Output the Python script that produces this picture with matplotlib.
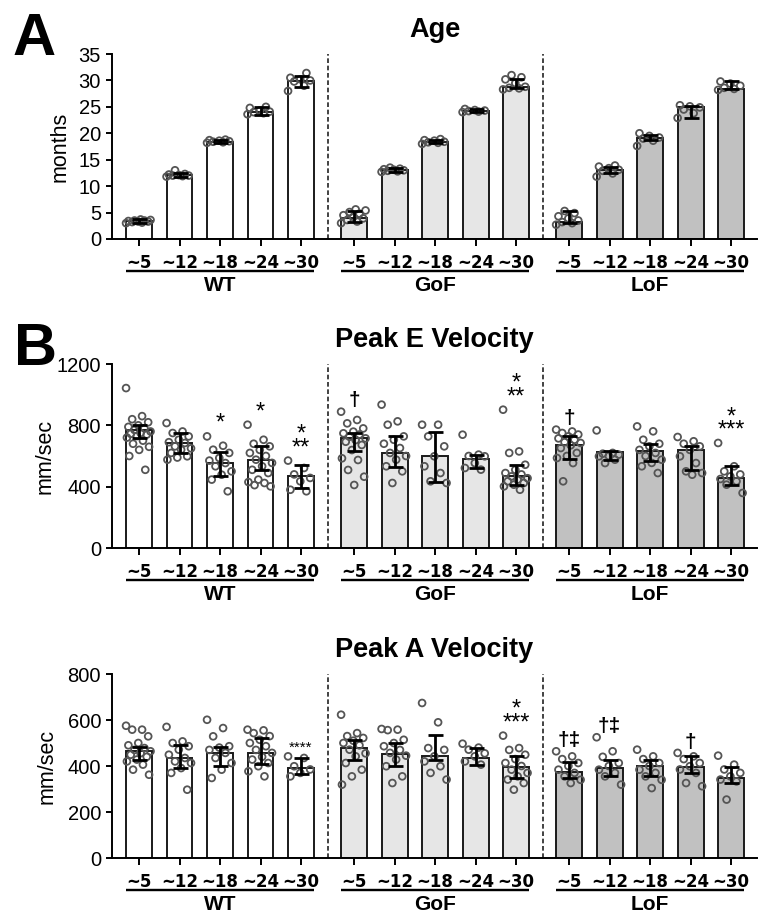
import matplotlib
matplotlib.use('Agg')
import matplotlib.pyplot as plt
import numpy as np
from matplotlib.transforms import offset_copy

plt.rcParams['font.family'] = ['Liberation Sans', 'DejaVu Sans']

# Данные
GROUPS = ['WT', 'GoF', 'LoF']
AGES = ['~5', '~12', '~18', '~24', '~30']
FILLS = ['#ffffff', '#e6e6e6', '#c1c1c1']

# A: возраст (месяцы)
age_mean = [3.5, 12.1, 18.4, 24.0, 29.8,
            4.0, 13.0, 18.4, 24.3, 28.8,
            3.3, 13.1, 19.2, 24.9, 28.4]
age_lo = [3.1, 11.8, 18.1, 23.5, 28.8,
          3.3, 12.7, 18.1, 24.0, 28.6,
          3.1, 12.4, 18.8, 22.9, 28.4]
age_hi = [3.7, 12.4, 18.8, 25.0, 30.8,
          5.3, 13.4, 18.8, 24.6, 30.3,
          5.3, 13.7, 19.7, 25.2, 29.8]
age_pts = [
    [3.0, 3.1, 3.2, 3.3, 3.3, 3.4, 3.5, 3.5, 3.6, 3.7],
    [11.8, 11.9, 12.0, 12.0, 12.1, 12.2, 12.3, 13.0],
    [18.2, 18.3, 18.4, 18.5, 18.6, 18.7, 18.8],
    [23.6, 23.8, 24.0, 24.1, 24.3, 24.8, 25.0],
    [28.0, 29.0, 29.8, 30.0, 30.2, 30.5, 31.4],
    [3.0, 3.3, 3.6, 3.9, 4.2, 4.5, 4.8, 5.1, 5.4, 5.6],
    [12.7, 12.8, 12.9, 13.0, 13.1, 13.2, 13.3, 13.5],
    [18.0, 18.2, 18.3, 18.4, 18.6, 18.7, 18.9],
    [24.0, 24.1, 24.2, 24.3, 24.4, 24.6],
    [28.3, 28.5, 28.6, 28.8, 29.5, 30.2, 30.6, 31.0],
    [2.7, 3.0, 3.2, 3.5, 3.9, 4.3, 4.9, 5.3],
    [11.8, 12.4, 12.9, 13.1, 13.4, 13.7, 13.9],
    [17.6, 18.6, 19.0, 19.2, 19.5, 20.0],
    [22.9, 23.8, 24.5, 24.9, 25.1, 25.3],
    [28.2, 28.4, 28.6, 29.0, 29.4, 29.8],
]
age_marks = [''] * 15

# B: пиковая скорость E (мм/с)
e_mean = [772, 685, 554, 576, 467,
          715, 620, 602, 580, 467,
          674, 624, 630, 641, 457]
e_lo = [717, 620, 472, 511, 391,
        633, 528, 433, 522, 413,
        580, 576, 565, 511, 413]
e_hi = [804, 750, 624, 663, 543,
        752, 733, 754, 609, 539,
        733, 630, 680, 667, 533]
e_pts = [
    [1043, 860, 840, 820, 800, 790, 780, 770, 760, 750, 745, 740, 730, 720, 700, 680, 660, 640, 600, 510],
    [815, 760, 750, 728, 706, 690, 685, 663, 650, 641, 620, 598, 590, 576],
    [728, 667, 641, 620, 587, 570, 554, 533, 500, 478, 446, 370],
    [804, 706, 680, 663, 640, 620, 600, 576, 555, 533, 510, 489, 446, 430, 424, 410, 402],
    [570, 522, 480, 457, 435, 380, 370],
    [889, 835, 813, 780, 759, 748, 740, 726, 715, 704, 693, 672, 639, 585, 574, 509, 465, 411],
    [935, 826, 804, 728, 706, 680, 652, 620, 600, 576, 533, 500, 424],
    [804, 804, 728, 663, 598, 533, 489, 435, 424],
    [739, 609, 600, 598, 554, 522, 511],
    [902, 630, 620, 543, 510, 489, 480, 467, 455, 446, 435, 424, 413, 402, 380],
    [772, 760, 750, 740, 728, 715, 706, 690, 685, 670, 652, 620, 600, 587, 554, 435],
    [767, 620, 615, 609, 600, 598, 576, 554],
    [793, 761, 706, 680, 663, 640, 620, 600, 576, 555, 533, 489],
    [724, 696, 680, 663, 640, 598, 554, 500, 489, 478],
    [685, 533, 500, 480, 467, 450, 435, 413, 359],
]
e_marks = ['', '', '*', '*', '*\n**',
           '†', '', '', '', '*\n**',
           '†', '', '', '', '*\n***']

# C: пиковая скорость A (мм/с)
a_mean = [464, 435, 457, 457, 391,
          478, 454, 442, 435, 396,
          372, 391, 399, 396, 348]
a_lo = [428, 391, 399, 410, 367,
        425, 399, 428, 406, 348,
        348, 355, 355, 370, 326]
a_hi = [483, 493, 481, 522, 435,
        515, 500, 536, 478, 442,
        417, 428, 428, 442, 394]
a_pts = [
    [575, 558, 558, 529, 500, 490, 478, 470, 464, 456, 449, 440, 428, 420, 406, 384, 362],
    [570, 507, 500, 486, 471, 449, 435, 420, 413, 391, 370, 297],
    [601, 565, 529, 486, 480, 470, 457, 435, 413, 384, 348],
    [558, 555, 543, 530, 514, 500, 486, 470, 457, 440, 428, 413, 399, 377, 355],
    [442, 435, 399, 385, 370, 355],
    [623, 543, 530, 522, 510, 500, 490, 471, 455, 442, 413, 384, 355, 319],
    [561, 558, 556, 514, 500, 486, 470, 457, 445, 428, 399, 355, 326],
    [674, 590, 478, 470, 442, 420, 399, 370, 341],
    [497, 480, 471, 455, 442, 420, 406],
    [532, 478, 470, 449, 430, 413, 400, 384, 370, 355, 341, 326, 297],
    [464, 442, 430, 413, 400, 384, 370, 355, 340, 326],
    [525, 464, 440, 413, 400, 384, 370, 355, 319],
    [471, 442, 430, 413, 400, 384, 370, 355, 340, 304],
    [457, 442, 430, 413, 399, 385, 370, 326, 312],
    [445, 406, 385, 370, 355, 341, 333, 254],
]
a_marks = ['', '', '', '', '****',
           '', '', '', '', '*\n***',
           '†‡', '†‡', '', '†', '']

GROUP_STEP = 5.31
BAR_W = 0.64
PX = 0.72  # пунктов в пикселе при dpi=100


def bar_positions():
    return np.array([g * GROUP_STEP + i for g in range(3) for i in range(5)])


def spread(n):
    """Детерминированный разброс точек по горизонтали."""
    return ((np.arange(n) * 0.618) % 1.0 - 0.5) * 0.64


def draw_panel(fig, ax, means, lo, hi, pts, marks, yticks, ylabel, title, label_x):
    x = bar_positions()
    means = np.asarray(means, float)
    fills = [FILLS[g] for g in range(3) for _ in range(5)]
    ymax = yticks[-1]

    ax.bar(x, means, width=BAR_W, color=fills, edgecolor='#1a1a1a',
           linewidth=1.4, zorder=1)
    for xi, p in zip(x, pts):
        ax.scatter(xi + spread(len(p)), p, s=24, facecolors='none',
                   edgecolors='#555555', linewidths=1.3, zorder=2)
    yerr = [np.clip(means - np.asarray(lo), 0, None),
            np.clip(np.asarray(hi) - means, 0, None)]
    ax.errorbar(x, means, yerr=yerr, fmt='none', ecolor='black',
                elinewidth=2.0, capsize=5.4, capthick=2.0, zorder=3)

    for xi, p, h, m in zip(x, pts, hi, marks):
        if not m:
            continue
        top = max(max(p), h)
        if m == '****':
            size, weight = 11, 'normal'
        elif '*' in m:
            size, weight = 17, 'normal'
        else:
            size, weight = 15, 'bold'
        ax.annotate(m, xy=(xi, top), xytext=(0, 1), textcoords='offset points',
                    ha='center', va='bottom', fontsize=size, fontweight=weight,
                    linespacing=0.5, annotation_clip=False)

    # разделители групп
    for g in range(1, 3):
        xd = (g * GROUP_STEP + (g - 1) * GROUP_STEP + 4) / 2
        ax.plot([xd, xd], [0, ymax], color='#222222', lw=1.2,
                ls=(0, (2.8, 1.6)), zorder=0)

    ax.set_xlim(-0.667, 15.26)
    ax.set_ylim(0, ymax)
    ax.set_yticks(yticks)
    ax.set_yticklabels([str(t) for t in yticks], fontsize=14.5)
    ax.set_xticks(x)
    ax.set_xticklabels(AGES * 3, fontsize=12, fontweight='bold',
                       family=['DejaVu Sans'])
    ax.tick_params(axis='y', length=4.3, width=1.4, pad=3.6)
    ax.tick_params(axis='x', length=5, width=1.4, pad=5.8)
    for side in ('top', 'right'):
        ax.spines[side].set_visible(False)
    for side in ('left', 'bottom'):
        ax.spines[side].set_linewidth(1.4)

    ax.set_ylabel(ylabel, fontsize=15.5)
    ax.yaxis.set_label_coords(label_x, 0.5)
    ax.set_title(title, fontsize=19.5, fontweight='bold', pad=12)

    # подчёркивание и подписи групп
    under = offset_copy(ax.get_xaxis_transform(), fig=fig, y=-32, units='dots')
    for g, name in enumerate(GROUPS):
        x0 = g * GROUP_STEP - BAR_W / 2
        x1 = g * GROUP_STEP + 4 + BAR_W / 2
        ax.plot([x0, x1], [0, 0], color='black', lw=2.4 * PX,
                transform=under, clip_on=False, solid_capstyle='butt')
        ax.annotate(name, xy=((x0 + x1) / 2, 0), xycoords=('data', 'axes fraction'),
                    xytext=(0, -37 * PX), textcoords='offset points',
                    ha='center', va='top', fontsize=15, fontweight='bold')


fig = plt.figure(figsize=(7.58, 9.18), dpi=100)
W, H = 758.0, 918.0
left = 112 / W
width = (757 - 112) / W

ax_a = fig.add_axes([left, 1 - 239 / H, width, 185 / H])
ax_b = fig.add_axes([left, 1 - 548 / H, width, 184 / H])
ax_c = fig.add_axes([left, 1 - 858 / H, width, 184 / H])

draw_panel(fig, ax_a, age_mean, age_lo, age_hi, age_pts, age_marks,
           [0, 5, 10, 15, 20, 25, 30, 35], 'months', 'Age', -0.065)
draw_panel(fig, ax_b, e_mean, e_lo, e_hi, e_pts, e_marks,
           [0, 400, 800, 1200], 'mm/sec', 'Peak E Velocity', -0.088)
draw_panel(fig, ax_c, a_mean, a_lo, a_hi, a_pts, a_marks,
           [0, 200, 400, 600, 800], 'mm/sec', 'Peak A Velocity', -0.084)

fig.text(13 / W, 1 - 55 / H, 'A', fontsize=43, fontweight='bold', va='baseline')
fig.text(14 / W, 1 - 365 / H, 'B', fontsize=43, fontweight='bold', va='baseline')

fig.savefig('out.png', dpi=100)
plt.close(fig)
